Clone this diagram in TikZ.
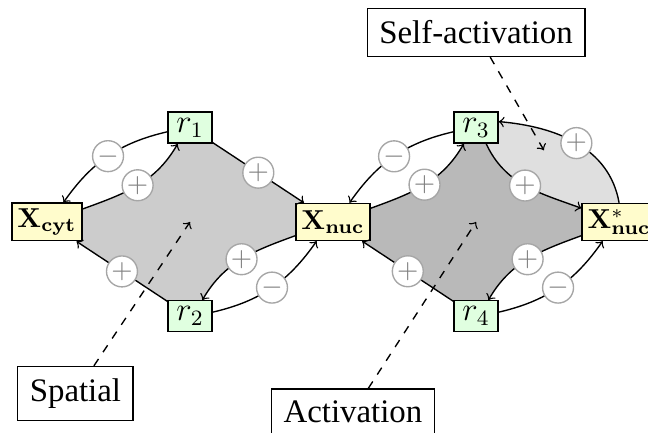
\documentclass[tikz,border=0pt]{standalone}
\usepackage[no-math]{fontspec}
\setmainfont{Liberation Serif}
\usetikzlibrary{positioning,backgrounds}

\begin{document}
\begin{tikzpicture}[->, node distance=1.21cm and 1.835cm, on grid, line width=0.5pt,
species/.style={rectangle, draw, fill=yellow!20, inner sep=2pt, minimum height=13.5pt},
rate/.style={rectangle, draw, fill=green!12, minimum width=16pt, minimum height=11.3pt, inner sep=1pt, font=\large},
sign/.style={circle, draw=gray!70, fill=white, text=gray, inner sep=0pt, minimum size=11.3pt},
note/.style={rectangle, draw, fill=white, inner sep=4.4pt, font=\large}
]
\useasboundingbox (-0.603,-2.707) rectangle (7.711,2.848);
% species and rates
\node[species] (Xcyt) {$\mathbf{X}_{\mathbf{cyt}}$};
\node[rate] (r1) [above right=of Xcyt] {$r_1$};
\node[rate] (r2) [below right=of Xcyt] {$r_2$};
\node[species] (Xnuc) [below right=of r1] {$\mathbf{X}_{\mathbf{nuc}}$};
\node[rate] (r3) [above right=of Xnuc] {$r_3$};
\node[rate] (r4) [below right=of Xnuc] {$r_4$};
\node[species] (Xstar) [below right=of r3] {$\mathbf{X}^{*}_{\mathbf{nuc}}$};
% labels
\node[note] (Self) [above=1.22cm of r3] {Self-activation};
\node[note] (Spatial) [below left=0.99cm and 1.47cm of r2] {Spatial};
\node[note] (Act) [below left=1.23cm and 1.58cm of r4] {Activation};
\coordinate (spc) at (r1 |- Xcyt);
\coordinate (actc) at (r3 |- Xnuc);
\coordinate (selfc) at ([xshift=0.87cm,yshift=-0.29cm]r3.center);
% shaded loops
\begin{scope}[on background layer, -]
\fill[gray!40] (Xcyt.center) -- (Xcyt.20) to[out=20,in=-120] ([xshift=-4.5pt]r1.south)
  -- (r1.center) -- (Xnuc.center) -- (Xnuc.200) to[out=200,in=60] ([xshift=4.5pt]r2.north)
  -- (r2.center) -- cycle;
\fill[gray!55] (Xnuc.center) -- (Xnuc.20) to[out=20,in=-120] ([xshift=-4.5pt]r3.south)
  -- (r3.center) -- ([xshift=3.7pt]r3.south) to[out=-65,in=160] (Xstar.160)
  -- (Xstar.center) -- (Xstar.200) to[out=200,in=60] ([xshift=4.5pt]r4.north)
  -- (r4.center) -- cycle;
\fill[gray!25] ([xshift=3.7pt]r3.south) to[out=-65,in=160] (Xstar.160)
  -- (Xstar.center) -- (Xstar.north) to[out=100,in=-5] (r3.15) -- (r3.center) -- cycle;
\end{scope}
% left loop
\draw ([yshift=-1.5pt]r1.west) to[out=193,in=55] node[sign] {$-$} ([xshift=6pt]Xcyt.north);
\draw (Xcyt.20) to[out=20,in=-120] node[sign] {$+$} ([xshift=-4.5pt]r1.south);
\draw (r1) -- node[sign] {$+$} (Xnuc);
\draw (Xnuc.200) to[out=200,in=60] node[sign] {$+$} ([xshift=4.5pt]r2.north);
\draw ([yshift=1.5pt]r2.east) to[out=13,in=235] node[sign] {$-$} ([xshift=-6pt]Xnuc.south);
\draw (r2) -- node[sign] {$+$} (Xcyt);
% right loop
\draw ([yshift=-1.5pt]r3.west) to[out=193,in=55] node[sign] {$-$} ([xshift=6pt]Xnuc.north);
\draw (Xnuc.20) to[out=20,in=-120] node[sign] {$+$} ([xshift=-4.5pt]r3.south);
\draw ([xshift=3.7pt]r3.south) to[out=-65,in=160] node[sign] {$+$} (Xstar.160);
\draw (Xstar.north) to[out=100,in=-5] node[sign] {$+$} (r3.15);
\draw (Xstar.200) to[out=200,in=60] node[sign] {$+$} ([xshift=4.5pt]r4.north);
\draw ([yshift=1.5pt]r4.east) to[out=13,in=235] node[sign] {$-$} ([xshift=-6pt]Xstar.south);
\draw (r4) -- node[sign] {$+$} (Xnuc);
% pointers
\draw[dashed] (Spatial) -- (spc);
\draw[dashed] (Act) -- (actc);
\draw[dashed] (Self) -- (selfc);
\end{tikzpicture}
\end{document}
